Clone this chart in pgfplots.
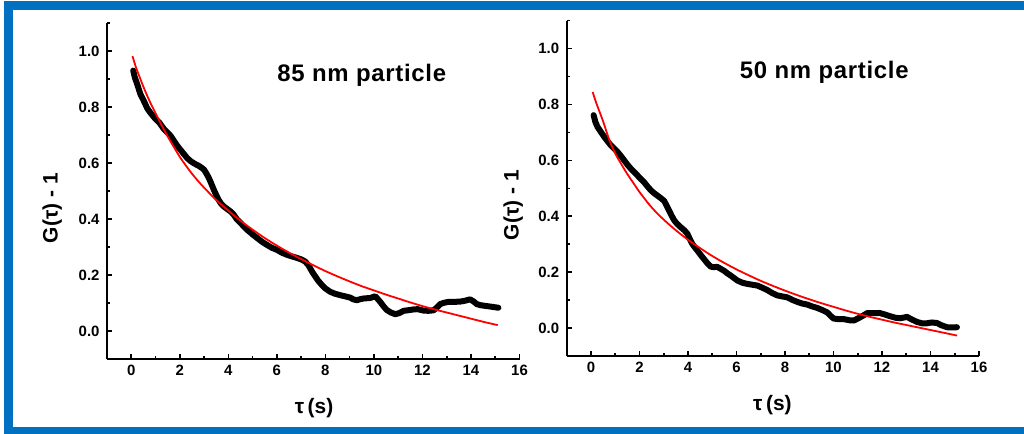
\documentclass[border=0pt]{standalone}
\usepackage{pgfplots}
\pgfplotsset{compat=1.18}
\usepackage{fontspec}
\setmainfont{Liberation Sans}

\definecolor{framebl}{RGB}{0,112,192}
\definecolor{fitred}{RGB}{255,0,0}

% measured correlation, 85 nm particles
\pgfplotstableread{
t G
0.08 0.930
0.15 0.905
0.25 0.880
0.38 0.845
0.5 0.825
0.66 0.795
0.8 0.778
1.0 0.757
1.15 0.745
1.34 0.722
1.5 0.708
1.62 0.697
1.75 0.680
1.89 0.662
2.0 0.650
2.17 0.632
2.3 0.618
2.44 0.607
2.6 0.598
2.78 0.590
2.9 0.583
3.0 0.576
3.1 0.562
3.2 0.546
3.3 0.526
3.4 0.505
3.5 0.486
3.6 0.468
3.7 0.455
3.81 0.445
3.95 0.436
4.09 0.427
4.2 0.418
4.36 0.398
4.5 0.386
4.77 0.362
5.0 0.345
5.19 0.332
5.4 0.318
5.6 0.307
5.8 0.297
6.0 0.290
6.2 0.280
6.42 0.272
6.6 0.267
6.83 0.261
7.0 0.256
7.17 0.248
7.3 0.235
7.38 0.223
7.48 0.208
7.59 0.194
7.7 0.180
7.86 0.164
8.0 0.152
8.2 0.140
8.4 0.133
8.61 0.128
8.8 0.124
9.03 0.119
9.15 0.113
9.3 0.110
9.45 0.114
9.57 0.116
9.85 0.118
10.05 0.124
10.15 0.115
10.26 0.104
10.4 0.088
10.53 0.075
10.7 0.066
10.88 0.060
11.05 0.064
11.22 0.072
11.4 0.074
11.63 0.077
11.8 0.078
12.04 0.073
12.25 0.072
12.46 0.074
12.6 0.084
12.73 0.096
12.9 0.101
13.07 0.104
13.3 0.104
13.55 0.105
13.75 0.108
13.96 0.113
14.1 0.106
14.24 0.096
14.4 0.092
14.65 0.089
14.9 0.086
15.13 0.083
}\dataA

% fitted curve, 85 nm particles
\pgfplotstableread{
t G
0.05 0.982
0.2 0.940
0.38 0.899
0.52 0.868
0.75 0.822
1.0 0.778
1.25 0.735
1.5 0.695
1.75 0.658
2.0 0.622
2.25 0.591
2.5 0.562
2.75 0.536
3.0 0.512
3.5 0.468
4.0 0.430
4.5 0.394
5.0 0.362
5.5 0.332
6.0 0.305
6.5 0.280
7.0 0.257
7.5 0.235
8.0 0.214
8.5 0.195
9.0 0.177
9.5 0.160
10.0 0.145
10.5 0.130
11.0 0.116
11.5 0.102
12.0 0.089
12.5 0.077
13.0 0.066
13.5 0.055
14.0 0.044
14.5 0.033
15.1 0.021
}\fitA

% measured correlation, 50 nm particles
\pgfplotstableread{
t G
0.11 0.762
0.18 0.738
0.27 0.720
0.4 0.703
0.55 0.684
0.7 0.667
0.82 0.654
0.95 0.643
1.1 0.630
1.25 0.614
1.37 0.600
1.5 0.585
1.65 0.570
1.8 0.557
1.92 0.546
2.05 0.534
2.19 0.522
2.33 0.507
2.47 0.493
2.6 0.483
2.74 0.474
2.88 0.465
3.02 0.455
3.12 0.438
3.22 0.421
3.32 0.403
3.43 0.386
3.55 0.373
3.70 0.361
3.85 0.350
3.98 0.337
4.08 0.318
4.18 0.301
4.29 0.288
4.39 0.277
4.52 0.262
4.66 0.247
4.8 0.232
4.94 0.220
5.05 0.218
5.21 0.219
5.35 0.212
5.49 0.205
5.62 0.196
5.76 0.188
5.9 0.179
6.04 0.170
6.25 0.162
6.45 0.158
6.65 0.155
6.86 0.152
7.05 0.145
7.27 0.136
7.48 0.125
7.68 0.117
7.9 0.113
8.09 0.110
8.3 0.101
8.5 0.094
8.7 0.088
8.92 0.084
9.1 0.078
9.33 0.072
9.55 0.064
9.74 0.056
9.9 0.042
10.01 0.034
10.2 0.032
10.43 0.032
10.65 0.028
10.84 0.027
11.05 0.036
11.25 0.046
11.4 0.054
11.6 0.053
11.9 0.054
12.1 0.049
12.35 0.042
12.55 0.037
12.76 0.035
13.03 0.040
13.2 0.032
13.44 0.022
13.65 0.017
13.85 0.017
14.05 0.020
14.27 0.018
14.45 0.010
14.68 0.003
14.9 0.002
15.09 0.003
}\dataB

% fitted curve, 50 nm particles
\pgfplotstableread{
t G
0.07 0.845
0.2 0.810
0.35 0.775
0.5 0.740
0.75 0.675
1.0 0.625
1.25 0.587
1.5 0.551
1.75 0.519
2.0 0.487
2.5 0.432
3.0 0.388
3.5 0.350
4.0 0.316
4.5 0.286
5.0 0.258
5.5 0.233
6.0 0.210
6.5 0.189
7.0 0.169
7.5 0.151
8.0 0.134
8.5 0.118
9.0 0.103
9.5 0.089
10.0 0.076
10.5 0.063
11.0 0.051
11.5 0.040
12.0 0.030
12.5 0.020
13.0 0.011
13.5 0.002
14.0 -0.007
14.5 -0.016
15.1 -0.027
}\fitB

\pgfplotsset{
  corrplot/.style={
    scale only axis,
    xmin=-1, xmax=16, ymin=-0.1, ymax=1.1,
    axis x line*=bottom, axis y line*=left,
    axis line style={line width=2bp, black, -},
    xtick={0,2,...,16}, minor xtick={1,3,...,15},
    ytick={0,0.2,0.4,0.6,0.8,1.0}, minor ytick={0.1,0.3,0.5,0.7,0.9,1.1},
    tick align=inside,
    major tick length=5bp, minor tick length=3bp,
    every tick/.style={line width=1.6bp, black},
    /pgf/number format/assume math mode=true,
    tick label style={font=\bfseries\fontsize{15}{15}\selectfont, text=black},
    yticklabel style={/pgf/number format/.cd, fixed, fixed zerofill, precision=1, /tikz/.cd, xshift=-4bp},
    xticklabel style={yshift=-3bp},
    label style={font=\bfseries\fontsize{21}{21}\selectfont},
    xlabel={τ\,(s)},
    ylabel={G(τ) - 1},
  },
  datacurve/.style={black, line width=6bp, line join=round, line cap=round},
  fitcurve/.style={fitred, line width=1.8bp, smooth},
}
\tikzset{
  paneltitle/.style={anchor=base, font=\bfseries\fontsize{24}{24}\selectfont\addfontfeature{LetterSpace=3}},
}

\begin{document}
\begin{tikzpicture}
\path[use as bounding box, fill=white] (0bp,0bp) rectangle (1024bp,434bp);

% left panel
\begin{axis}[corrplot, at={(107bp,75bp)}, anchor=south west, width=412.5bp, height=336bp,
  xlabel style={at={(axis description cs:0.502,-0.146)}, anchor=center},
  ylabel style={at={(axis description cs:-0.133,0.449)}, anchor=center}]
  \addplot[datacurve] table[x=t, y=G] {\dataA};
  \addplot[fitcurve] table[x=t, y=G] {\fitA};
  \node[paneltitle] at (axis cs:9.5,0.8925) {85 nm particle};
\end{axis}

% right panel
\begin{axis}[corrplot, at={(566.7bp,78bp)}, anchor=south west, width=412.3bp, height=335.3bp,
  xlabel style={at={(axis description cs:0.499,-0.146)}, anchor=center},
  ylabel style={at={(axis description cs:-0.130,0.450)}, anchor=center}]
  \addplot[datacurve] table[x=t, y=G] {\dataB};
  \addplot[fitcurve] table[x=t, y=G] {\fitB};
  \node[paneltitle] at (axis cs:9.62,0.8925) {50 nm particle};
\end{axis}

% frame
\draw[framebl, line width=9bp] (8.5bp,-6bp) -- (8.5bp,428bp) -- (1030bp,428bp);
\draw[framebl, line width=7bp] (4bp,3.5bp) -- (1030bp,3.5bp);
\end{tikzpicture}
\end{document}
